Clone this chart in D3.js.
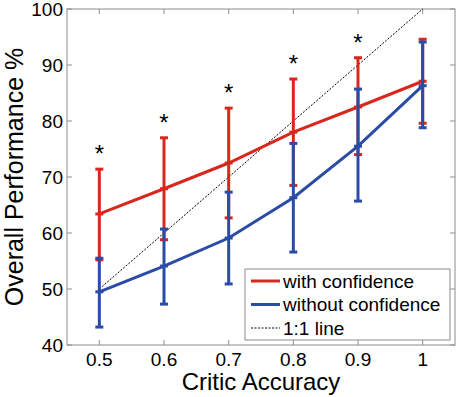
<!DOCTYPE html>
<html>
<head>
<meta charset="utf-8">
<script src="https://cdn.jsdelivr.net/npm/d3@7"></script>
<style>
  body { margin: 0; background: #fff; }
  text { font-family: "Liberation Sans", Arial, sans-serif; }
</style>
</head>
<body>
<svg id="chart"></svg>
<script>
// critic accuracy levels
const accuracy = [0.5, 0.6, 0.7, 0.8, 0.9, 1.0];

// with confidence: mean, upper, lower
const withMean = [63.4, 67.9, 72.5, 78.0, 82.5, 87.1];
const withHigh = [71.4, 77.0, 82.3, 87.5, 91.3, 94.6];
const withLow  = [55.2, 58.8, 62.7, 68.5, 74.0, 79.6];

// without confidence
const withoutMean = [49.5, 54.1, 59.1, 66.3, 75.5, 86.3];
const withoutHigh = [55.5, 60.7, 67.3, 76.0, 85.7, 94.1];
const withoutLow  = [43.2, 47.3, 50.9, 56.6, 65.7, 78.8];

// which points are significant
const starred = [0.5, 0.6, 0.7, 0.8, 0.9];

const xTicks = [0.5, 0.6, 0.7, 0.8, 0.9, 1];
const yTicks = [40, 50, 60, 70, 80, 90, 100];

const width = 459, height = 397;
const margin = { top: 9, right: 4, bottom: 52, left: 67 };
const innerW = width - margin.left - margin.right;
const innerH = height - margin.top - margin.bottom;

const red = "#d8281e", blue = "#2b4ca6";

const svg = d3.select("#chart").attr("width", width).attr("height", height);
const g = svg.append("g").attr("transform", `translate(${margin.left},${margin.top})`);

const x = d3.scaleLinear().domain([0.45, 1.05]).range([0, innerW]);
const y = d3.scaleLinear().domain([40, 100]).range([innerH, 0]);

// box + inward ticks, matlab style
const axisColor = "#8c8c8c";
g.append("rect")
    .attr("width", innerW).attr("height", innerH)
    .attr("fill", "none").attr("stroke", axisColor).attr("stroke-width", 1);

const tickLen = 5;
xTicks.forEach(t => {
    g.append("line").attr("x1", x(t)).attr("x2", x(t)).attr("y1", innerH).attr("y2", innerH - tickLen).attr("stroke", axisColor);
    g.append("line").attr("x1", x(t)).attr("x2", x(t)).attr("y1", 0).attr("y2", tickLen).attr("stroke", axisColor);
});
yTicks.forEach(t => {
    g.append("line").attr("x1", 0).attr("x2", tickLen).attr("y1", y(t)).attr("y2", y(t)).attr("stroke", axisColor);
    g.append("line").attr("x1", innerW).attr("x2", innerW - tickLen).attr("y1", y(t)).attr("y2", y(t)).attr("stroke", axisColor);
});

// tick labels
g.append("g").selectAll("text")
    .data(xTicks)
    .join("text")
    .attr("x", d => x(d))
    .attr("y", innerH + 21)
    .attr("text-anchor", "middle")
    .style("font-size", "19px")
    .text(d => d);

g.append("g").selectAll("text")
    .data(yTicks)
    .join("text")
    .attr("x", -4)
    .attr("y", d => y(d))
    .attr("dy", "0.36em")
    .attr("text-anchor", "end")
    .style("font-size", "19px")
    .text(d => d);

// axis titles
svg.append("text")
    .attr("x", margin.left + innerW / 2)
    .attr("y", 390)
    .attr("text-anchor", "middle")
    .style("font-size", "24px")
    .text("Critic Accuracy");

svg.append("text")
    .attr("transform", `translate(23,${margin.top + innerH / 2}) rotate(-90)`)
    .attr("text-anchor", "middle")
    .style("font-size", "25px")
    .text("Overall Performance %");

// 1:1 line
g.append("line")
    .attr("x1", x(0.5)).attr("y1", y(50))
    .attr("x2", x(1)).attr("y2", y(100))
    .attr("stroke", "#000").attr("stroke-width", 1)
    .attr("stroke-dasharray", "2,1.5");

function drawSeries(mean, high, low, color) {
    const pts = accuracy.map((a, i) => ({ a, m: mean[i], hi: high[i], lo: low[i] }));
    const s = g.append("g");

    s.append("path")
        .datum(pts)
        .attr("fill", "none")
        .attr("stroke", color)
        .attr("stroke-width", 3)
        .attr("d", d3.line().x(d => x(d.a)).y(d => y(d.m)));

    s.selectAll(".bar").data(pts).join("line")
        .attr("x1", d => x(d.a)).attr("x2", d => x(d.a))
        .attr("y1", d => y(d.hi)).attr("y2", d => y(d.lo))
        .attr("stroke", color).attr("stroke-width", 3);

    const cap = 4;
    ["hi", "lo", "m"].forEach(k => {
        s.selectAll(".cap-" + k).data(pts).join("line")
            .attr("x1", d => x(d.a) - cap).attr("x2", d => x(d.a) + cap)
            .attr("y1", d => y(d[k])).attr("y2", d => y(d[k]))
            .attr("stroke", color).attr("stroke-width", 3);
    });
}

drawSeries(withMean, withHigh, withLow, red);
drawSeries(withoutMean, withoutHigh, withoutLow, blue);

// significance asterisks above the red bars
g.append("g").selectAll("text")
    .data(starred)
    .join("text")
    .attr("x", d => x(d))
    .attr("y", d => y(withHigh[accuracy.indexOf(d)]) - 7)
    .attr("text-anchor", "middle")
    .style("font-size", "24px")
    .text("*");

// legend
const legend = svg.append("g").attr("transform", "translate(245,269)");
legend.append("rect")
    .attr("width", 205).attr("height", 71)
    .attr("fill", "#fff").attr("stroke", axisColor);

const legendItems = [
    { label: "with confidence", color: red, width: 3, dash: null },
    { label: "without confidence", color: blue, width: 3, dash: null },
    { label: "1:1 line", color: "#000", width: 1, dash: "2,1.5" }
];

legendItems.forEach((d, i) => {
    const yy = 12 + i * 23.5;
    legend.append("line")
        .attr("x1", 6).attr("x2", 35).attr("y1", yy).attr("y2", yy)
        .attr("stroke", d.color).attr("stroke-width", d.width)
        .attr("stroke-dasharray", d.dash);
    legend.append("text")
        .attr("x", 38).attr("y", yy)
        .attr("dy", "0.36em")
        .style("font-size", "19px")
        .text(d.label);
});
</script>
</body>
</html>
